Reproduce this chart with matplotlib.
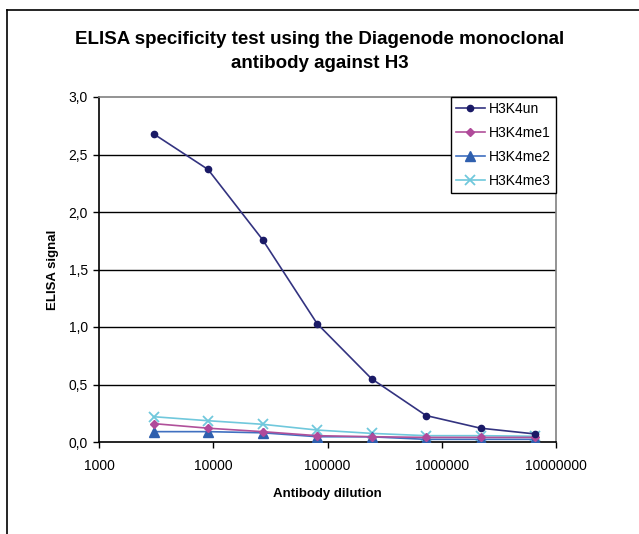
import matplotlib
matplotlib.use("Agg")
import matplotlib.pyplot as plt
from matplotlib.ticker import FixedLocator, FixedFormatter
from matplotlib.lines import Line2D

plt.rcParams['font.family'] = ['Liberation Sans', 'DejaVu Sans']

dilution = [3000, 9000, 27000, 81000, 243000, 729000, 2187000, 6561000]
h3k4un = [2.68, 2.37, 1.76, 1.03, 0.55, 0.23, 0.12, 0.07]
h3k4me1 = [0.16, 0.12, 0.09, 0.055, 0.046, 0.04, 0.04, 0.04]
h3k4me2 = [0.09, 0.09, 0.08, 0.046, 0.045, 0.023, 0.023, 0.023]
h3k4me3 = [0.22, 0.185, 0.154, 0.104, 0.075, 0.055, 0.055, 0.05]

y_ticks = [0.0, 0.5, 1.0, 1.5, 2.0, 2.5, 3.0]
y_labels = ['0,0', '0,5', '1,0', '1,5', '2,0', '2,5', '3,0']
x_ticks = [1000, 10000, 100000, 1000000, 10000000]
x_labels = ['1000', '10000', '100000', '1000000', '10000000']

W, H = 639, 534
fig = plt.figure(figsize=(W / 100, H / 100), dpi=100)
ax = fig.add_axes([99 / W, 1 - 442 / H, (556 - 99) / W, (442 - 97) / H])

# outer chart frame (only top and left visible)
fig.add_artist(Line2D([7 / W, 1.0], [1 - 10 / H, 1 - 10 / H], transform=fig.transFigure,
                      color='black', lw=1.2))
fig.add_artist(Line2D([7 / W, 7 / W], [0.0, 1 - 10 / H], transform=fig.transFigure,
                      color='black', lw=1.2))

ax.set_xscale('log')
ax.set_xlim(1000, 10000000)
ax.set_ylim(0, 3.0)

for y in y_ticks[1:-1]:
    ax.axhline(y, color='black', lw=1.0, zorder=1)

ax.plot(dilution, h3k4un, color='#333380', lw=1.2, marker='o', ms=4.5,
        mfc='#1a1a66', mec='#1a1a66', label='H3K4un', zorder=5)
ax.plot(dilution, h3k4me1, color='#b0509a', lw=1.2, marker='D', ms=4.5,
        mfc='#b04a9a', mec='#b04a9a', label='H3K4me1', zorder=4)
ax.plot(dilution, h3k4me2, color='#4070c0', lw=1.2, marker='^', ms=6.5,
        mfc='#2f5fae', mec='#2f5fae', label='H3K4me2', zorder=3)
ax.plot(dilution, h3k4me3, color='#70c8dc', lw=1.2, marker='x', ms=7,
        mew=1.3, mec='#70c8dc', label='H3K4me3', zorder=2)

ax.xaxis.set_major_locator(FixedLocator(x_ticks))
ax.xaxis.set_major_formatter(FixedFormatter(x_labels))
ax.xaxis.set_minor_locator(FixedLocator([]))
ax.yaxis.set_major_locator(FixedLocator(y_ticks))
ax.yaxis.set_major_formatter(FixedFormatter(y_labels))
ax.tick_params(axis='both', direction='out', length=4, width=1, labelsize=10,
               colors='black', pad=4)
ax.tick_params(axis='x', pad=8)

for s in ['left', 'bottom']:
    ax.spines[s].set_color('black')
    ax.spines[s].set_linewidth(1.2)
for s in ['top', 'right']:
    ax.spines[s].set_color('#808080')
    ax.spines[s].set_linewidth(1.2)

ax.set_ylabel('ELISA signal', fontsize=9.5, fontweight='bold', labelpad=7)
ax.set_xlabel('Antibody dilution', fontsize=9.5, fontweight='bold', labelpad=11)

fig.text(0.5, 1 - 40 / H, 'ELISA specificity test using the Diagenode monoclonal',
         ha='center', va='center', fontsize=13.5, fontweight='bold')
fig.text(0.5, 1 - 64 / H, 'antibody against H3', ha='center', va='center',
         fontsize=13.5, fontweight='bold')

leg = ax.legend(loc='upper right', bbox_to_anchor=(1.0, 1.0), fancybox=False,
                framealpha=1, edgecolor='black', fontsize=10, borderaxespad=0,
                handlelength=2.1, handletextpad=0.3, labelspacing=0.72,
                borderpad=0.35)
leg.get_frame().set_linewidth(1.0)
leg.set_zorder(10)

fig.savefig('out.png', dpi=100)
